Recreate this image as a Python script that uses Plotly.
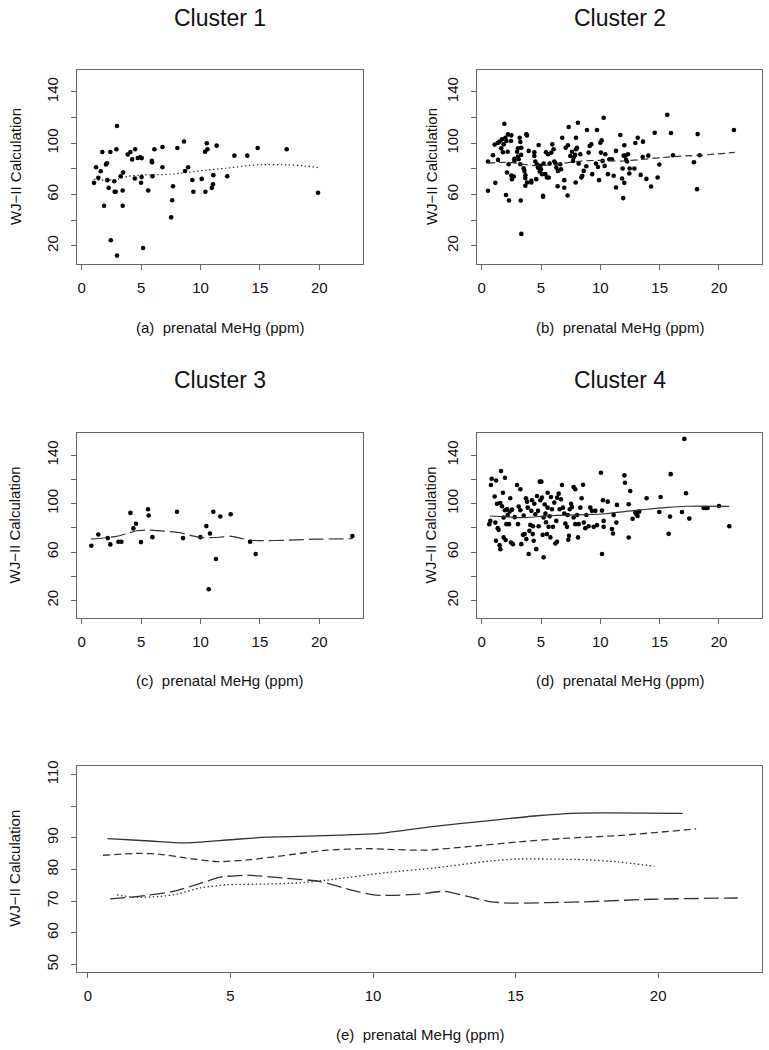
import plotly.graph_objects as go

# ---------------- data ----------------
c1_x = [1.04, 1.21, 1.4, 1.6, 1.74, 1.88, 2.05, 2.13, 2.16, 2.27, 2.41, 2.45, 2.75, 2.78, 2.86, 2.92, 2.97, 2.97,
        3.28, 3.45, 3.48, 3.45, 3.87, 4.1, 4.25, 4.47, 4.5, 4.72, 4.93, 5.04, 5.05, 5.0, 5.17, 5.6, 5.9, 5.92,
        5.96, 6.12, 6.8, 6.8, 7.53, 7.62, 7.68, 8.05, 8.61, 8.7, 8.96, 9.31, 9.4, 10.1, 10.41, 10.38, 10.53,
        10.58, 10.95, 11.05, 11.08, 11.36, 12.25, 12.85, 13.94, 14.81, 17.25, 19.89]
c1_y = [69.1, 81.3, 73, 78.2, 93.2, 51.3, 83.5, 84.4, 71.2, 65.2, 93.2, 24.4, 70.4, 62.2, 62.2, 95.3, 113.4, 12.4,
        74.3, 63.2, 77.1, 51.3, 91.2, 93.2, 87.4, 72.5, 95.3, 88.5, 89, 73.6, 88.4, 69.2, 18.3, 63.2, 86.2, 85.1,
        74.3, 95.3, 97, 81.3, 42.2, 55.5, 66.4, 96.3, 101.3, 78.3, 81.3, 71.3, 62.2, 72.2, 62.2, 93.3, 100,
        95.3, 65.2, 68, 75.1, 98.1, 74.3, 90.3, 90.3, 96.3, 95.3, 61.4]

c2_x = [0.53, 0.53, 0.95, 1.15, 1.09, 1.35, 1.38, 1.51, 1.71, 1.91, 1.85, 1.65, 1.79, 2.0, 2.08, 2.19, 2.13, 2.27,
        2.22, 2.5, 2.47, 2.05, 2.3, 2.5, 2.7, 2.76, 2.76, 2.55, 2.98, 3.06, 3.06, 3.12, 3.2, 3.26, 3.29, 3.34,
        3.34, 3.32, 3.26, 3.54, 3.6, 3.68, 3.68, 3.76, 3.82, 3.82, 3.68, 3.96, 4.18, 4.18, 4.44, 4.44, 4.52,
        4.6, 4.8, 4.66, 4.74, 4.86, 5.0, 4.94, 4.89, 5.08, 5.17, 5.17, 5.22, 5.36, 5.42, 5.5, 5.59, 5.65, 5.73,
        5.87, 5.95, 6.06, 6.12, 6.23, 6.29, 6.43, 6.4, 6.62, 6.69, 6.79, 6.96, 6.96, 7.08, 7.27, 7.33, 7.24,
        7.47, 7.61, 7.7, 7.75, 7.87, 7.95, 7.95, 7.92, 8.03, 8.11, 8.17, 8.31, 8.4, 8.48, 8.6, 8.82, 8.87,
        9.01, 9.1, 9.24, 9.32, 9.63, 9.72, 9.8, 9.89, 10.0, 10.11, 10.05, 10.28, 10.19, 10.36, 10.42, 10.64,
        10.76, 10.98, 11.12, 11.32, 11.32, 11.68, 12.02, 11.97, 12.11, 12.33, 12.17, 12.25, 11.88, 12.47,
        12.87, 12.44, 11.83, 12.02, 11.93, 12.95, 13.15, 13.59, 13.57, 14.04, 13.4, 13.88, 14.97, 14.83,
        14.27, 14.58, 15.64, 15.95, 16.12, 17.89, 18.2, 18.37, 18.15, 21.26]
c2_y = [85.7, 62.9, 90.6, 69.1, 98.9, 100.2, 87, 101.2, 103, 115.2, 99.1, 96, 92.9, 104.3, 101.7, 93.4, 77.2, 83.6,
        106.9, 106.1, 101.7, 59.6, 55.4, 74.8, 74, 87.8, 86.2, 72, 93.4, 89.6, 96, 87.5, 104.3, 100.9, 55.4,
        29.3, 96.5, 90.9, 83.6, 80.5, 78.4, 75.1, 72.8, 106.9, 106.1, 69.4, 66.8, 94, 69.4, 70.7, 92.9, 90.1,
        85.7, 72, 98.6, 83.6, 81, 80.5, 79.7, 82.3, 77.9, 75.9, 58.3, 59.0, 84.1, 75.9, 92.9, 73.3, 91.4, 73.3,
        84.1, 92.7, 99.1, 95.3, 85.7, 84.1, 81, 78.4, 66.5, 83.6, 79.7, 104.3, 71.2, 65.3, 96.5, 98.4, 112.6,
        59.3, 90.1, 93.4, 86.2, 88.8, 90.9, 104.3, 95.3, 69.4, 96.5, 115.9, 84.1, 91.4, 73.3, 74.6, 78.4, 82.1,
        110.3, 92.7, 97.8, 99.1, 75.9, 84.1, 110.3, 81.5, 71.2, 100.4, 102.2, 92.7, 119.8, 86.2, 82.3, 91.4,
        75.9, 87.5, 87.5, 74.6, 94, 65.5, 106.4, 98.4, 90.3, 90.3, 91.4, 87, 85.7, 80.3, 80.3, 80.3, 76.4,
        72.5, 69.1, 57.2, 100.2, 104.3, 101.2, 89.3, 90.3, 75.3, 72.2, 83.4, 73.3, 66.3, 108.2, 122.1, 107.9,
        90.6, 85.2, 107.1, 90.6, 64.2, 110.3]

c3_x = [0.81, 1.4, 2.19, 2.41, 3.09, 3.34, 4.1, 4.35, 4.57, 4.99, 5.58, 5.64, 5.95, 8.02, 8.53, 9.99, 10.49,
        10.69, 10.8, 11.08, 11.3, 11.67, 12.54, 14.17, 14.64, 22.78]
c3_y = [65.2, 74.5, 71.5, 66.3, 68.5, 68.5, 92.3, 79.5, 83.3, 68.2, 95.3, 90.1, 72.3, 93.2, 71.5, 72.3, 81.4,
        29.3, 75.3, 93.2, 54.2, 89.3, 91.2, 68.5, 58.4, 73.2]

c4_x = [0.64, 0.73, 0.78, 0.84, 1.21, 1.15, 1.09, 1.21, 1.29, 1.35, 1.43, 1.51, 1.57, 1.63, 1.57, 1.71, 1.79,
        1.85, 1.85, 1.96, 1.96, 2.02, 2.08, 2.13, 2.19, 2.3, 2.36, 2.41, 2.47, 2.56, 2.64, 2.78, 2.98, 3.06,
        3.12, 3.26, 3.26, 3.34, 3.48, 3.54, 3.62, 3.76, 3.73, 3.82, 3.88, 3.96, 4.02, 4.1, 4.18, 4.24, 4.3,
        4.33, 4.38, 4.44, 4.52, 4.6, 4.66, 4.75, 4.8, 4.89, 5.03, 4.94, 5.08, 5.14, 5.22, 5.22, 5.31, 5.37,
        5.42, 5.5, 5.56, 5.56, 5.64, 5.73, 5.79, 5.84, 5.92, 6.01, 6.12, 6.21, 6.35, 6.29, 6.35, 6.49, 6.57,
        6.68, 6.77, 6.85, 6.96, 7.05, 7.19, 7.25, 7.3, 7.36, 7.42, 7.53, 7.61, 7.75, 7.89, 7.89, 7.75, 8.04,
        8.12, 8.17, 8.31, 8.42, 8.54, 8.6, 8.73, 8.82, 9.01, 9.15, 9.29, 9.44, 9.58, 9.72, 10.05, 10.14,
        10.22, 10.28, 10.14, 10.28, 10.62, 10.98, 11.07, 11.12, 11.4, 11.35, 12.03, 12.08, 12.52, 12.39,
        12.72, 12.39, 12.95, 13.04, 13.14, 13.28, 13.9, 14.97, 15.08, 15.76, 15.87, 15.93, 16.88, 17.08,
        17.22, 17.5, 18.71, 18.85, 19.04, 20.0, 20.87]
c4_y = [83, 85.7, 115.3, 120.5, 119.1, 84.3, 105.9, 69.3, 99.9, 79.7, 78.3, 65.7, 62.4, 126.8, 100.5, 97.8, 109,
        88.5, 72.1, 121.3, 94.5, 69.9, 83, 95.3, 90.6, 83, 93.4, 104.4, 67.9, 95, 66.5, 88.8, 115.3, 83, 97.5,
        111.8, 94.5, 66.5, 74.2, 90.1, 74.8, 70.7, 104.4, 101.6, 96.7, 58.4, 77.5, 82.4, 94, 102.7, 74.8, 81.3,
        69.3, 99.9, 91.2, 62.4, 106.2, 94, 81.3, 118.1, 118.1, 102.7, 104.9, 74.2, 55.6, 88.5, 99.3, 91.7,
        84.6, 74.8, 109, 96.7, 80.8, 89.6, 72.1, 105.4, 95.3, 80.8, 100.8, 67.1, 68.5, 85.7, 104.9, 108.2,
        95.3, 103.5, 115.3, 96.7, 91.7, 83.5, 80.8, 90.6, 70.1, 73.4, 95.3, 99.9, 97.2, 113.7, 111.8, 83,
        88.5, 90.6, 72.1, 83, 96.7, 104.4, 115.6, 84.3, 79.7, 90.6, 81.3, 96.7, 94, 80.8, 94, 82.2, 125.4,
        58.4, 102.7, 80.8, 94.2, 85.7, 101.6, 79, 75.3, 90.6, 98.9, 84.3, 123.3, 117.2, 110.4, 99.4, 87.4,
        72, 92.6, 91.2, 89.8, 93.4, 104.4, 93.1, 105.4, 75, 89.3, 124.3, 93.1, 153.4, 108.5, 87.6, 96.4,
        96.4, 96.4, 98, 81.3]

# smoothed curves
s1_x = [1.02, 1.6, 2.54, 3.12, 3.94, 4.88, 6.28, 7.45, 8.62, 10.43, 12.15, 14.14, 15.07, 17.41, 18.58, 19.87]
s1_y = [72.0, 71.2, 71.5, 72.2, 74.2, 75.2, 75.4, 75.8, 76.9, 79.0, 80.5, 82.7, 83.3, 83.1, 82.4, 81.0]
s2_x = [0.53, 1.84, 2.54, 3.47, 4.53, 5.7, 6.87, 8.39, 9.79, 10.43, 11.8, 13.32, 15.07, 16.83, 18.58, 21.33]
s2_y = [84.5, 85.1, 84.8, 83.6, 82.5, 83.1, 84.4, 86.1, 86.6, 86.4, 86.1, 87.2, 88.7, 89.9, 90.7, 92.8]
s3_x = [0.78, 1.84, 3.0, 3.94, 4.64, 5.58, 6.87, 8.15, 9.32, 10.02, 10.43, 11.57, 12.5, 13.32, 14.14, 14.84,
        17.41, 19.75, 22.79]
s3_y = [70.7, 71.6, 73.1, 75.6, 77.6, 78.2, 77.3, 76.2, 73.3, 72.0, 71.8, 72.2, 73.1, 71.5, 69.8, 69.4,
        69.8, 70.6, 71.0]
s4_x = [0.69, 2.19, 3.36, 5.0, 6.28, 8.04, 9.79, 10.43, 12.15, 13.91, 15.66, 17.24, 20.86]
s4_y = [89.76, 89.0, 88.4, 89.4, 90.2, 90.6, 91.2, 91.6, 93.6, 95.3, 96.9, 97.8, 97.7]

titles = ["Cluster 1", "Cluster 2", "Cluster 3", "Cluster 4"]
xlabels = ["(a)\u00a0 prenatal MeHg (ppm)", "(b)\u00a0 prenatal MeHg (ppm)", "(c)\u00a0 prenatal MeHg (ppm)",
           "(d)\u00a0 prenatal MeHg (ppm)", "(e)\u00a0 prenatal MeHg (ppm)"]
ylabel = "WJ\u2212II Calculation"
x_ticks = [0, 5, 10, 15, 20]
y_ticks_top = [20, 40, 60, 80, 100, 120, 140]
y_ticktext_top = ["20", "", "60", "", "100", "", "140"]
y_ticks_e = [50, 60, 70, 80, 90, 100, 110]
y_ticktext_e = ["50", "60", "70", "80", "90", "", "110"]

# ---------------- layout geometry ----------------
W, H = 769, 1050
FONT = "Liberation Sans, Arial, Helvetica, sans-serif"
LINE_C = "#333333"
FRAME_C = "#666666"


def px(x):
    return x / W


def py(y):
    return 1 - y / H


boxes = [
    (77.3, 362.7, 65.0, 260.7),
    (477.3, 762.3, 65.0, 260.7),
    (77.3, 362.7, 430.0, 616.0),
    (477.3, 762.3, 430.0, 616.0),
    (77.3, 762.3, 764.3, 971.7),
]
yranges = [[5.5, 157.3], [5.5, 157.3], [5.5, 158.3], [5.5, 158.3], [47.6, 112.8]]
xrange_ = [-0.37, 23.65]

fig = go.Figure()

pts = [(c1_x, c1_y), (c2_x, c2_y), (c3_x, c3_y), (c4_x, c4_y)]
curves = [(s1_x, s1_y, "1.5px,2.5px"), (s2_x, s2_y, "7px,4px"), (s3_x, s3_y, "15px,5px"),
          (s4_x, s4_y, "solid")]

for i in range(4):
    xa = "x" if i == 0 else f"x{i+1}"
    ya = "y" if i == 0 else f"y{i+1}"
    fig.add_trace(go.Scatter(x=pts[i][0], y=pts[i][1], mode="markers", xaxis=xa, yaxis=ya,
                             marker=dict(color="black", size=4.6, line=dict(width=0)),
                             showlegend=False, hoverinfo="skip"))
    cx, cy, dash = curves[i]
    fig.add_trace(go.Scatter(x=cx, y=cy, mode="lines", xaxis=xa, yaxis=ya,
                             line=dict(color=LINE_C, width=1.2, dash=dash, shape="spline", smoothing=0.6),
                             showlegend=False, hoverinfo="skip"))

for i in range(4):
    cx, cy, dash = curves[i]
    fig.add_trace(go.Scatter(x=cx, y=cy, mode="lines", xaxis="x5", yaxis="y5",
                             line=dict(color=LINE_C, width=1.3, dash=dash, shape="spline", smoothing=0.6),
                             showlegend=False, hoverinfo="skip"))

axis_common = dict(showline=True, mirror=True, linecolor=FRAME_C, linewidth=1, ticks="outside",
                   ticklen=5, tickcolor=FRAME_C, tickwidth=1, showgrid=False, zeroline=False,
                   tickfont=dict(family=FONT, size=15, color="#111"))

layout = dict(width=W, height=H, margin=dict(l=0, r=0, t=0, b=0), paper_bgcolor="white",
              plot_bgcolor="white", showlegend=False)

annotations = []
for i, (l, r, t, b) in enumerate(boxes):
    k = "" if i == 0 else str(i + 1)
    layout["xaxis" + k] = dict(axis_common, domain=[px(l), px(r)], range=xrange_, tickvals=x_ticks,
                               anchor="y" + k, ticklabelstandoff=5)
    if i < 4:
        yt, ytt = y_ticks_top, y_ticktext_top
    else:
        yt, ytt = y_ticks_e, y_ticktext_e
    layout["yaxis" + k] = dict(axis_common, domain=[py(b), py(t)], range=yranges[i], tickvals=yt,
                               ticktext=ytt, tickangle=-90, anchor="x" + k, ticklabelstandoff=7)
    cxp = (l + r) / 2
    cyp = (t + b) / 2
    ylab_x = 15 if l < 200 else 431
    annotations.append(dict(text=xlabels[i], x=px(cxp), y=py(b + 63), xref="paper", yref="paper",
                            showarrow=False, xanchor="center", yanchor="middle",
                            font=dict(family=FONT, size=15, color="#111")))
    annotations.append(dict(text=ylabel, x=px(ylab_x), y=py(cyp), xref="paper", yref="paper",
                            showarrow=False, xanchor="center", yanchor="middle", textangle=-90,
                            font=dict(family=FONT, size=15, color="#111")))
    if i < 4:
        ty = 13 if i < 2 else 377
        annotations.append(dict(text=titles[i], x=px(cxp), y=py(ty), xref="paper", yref="paper",
                                showarrow=False, xanchor="center", yanchor="middle",
                                font=dict(family=FONT, size=23, color="#111")))

layout["annotations"] = annotations
fig.update_layout(**layout)

fig.write_html("out.html", config={"displayModeBar": False},
               post_script="document.body.style.margin='0';document.body.style.padding='0';")
